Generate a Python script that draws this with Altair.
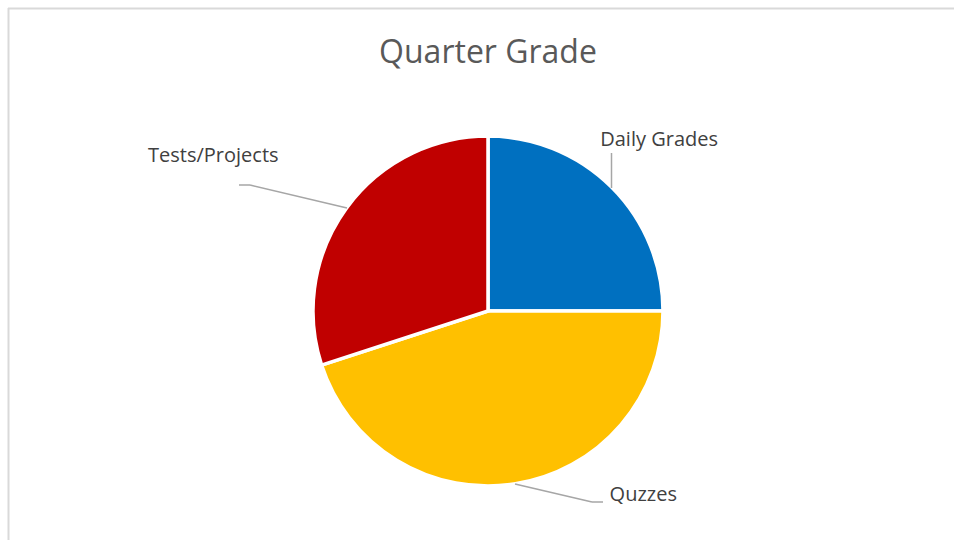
import altair as alt
import pandas as pd

categories = ["Daily Grades", "Quzzes", "Tests/Projects"]
values = [25, 45, 30]
slice_order = [1, 2, 3]
colors = ["#0070C0", "#FFC000", "#C00000"]

df = pd.DataFrame({"category": categories, "value": values, "order": slice_order})

W, H = 954, 540
CX, CY = 488, 311
FONT = "Open Sans"

base = alt.Chart(df)

pie = base.mark_arc(radius=175, stroke="white", strokeWidth=3.5).encode(
    theta=alt.Theta("value:Q", stack=True),
    color=alt.Color("category:N", scale=alt.Scale(domain=categories, range=colors), legend=None),
    order=alt.Order("order:Q"),
    x=alt.value(CX),
    y=alt.value(CY),
)

lab_base = (
    base.transform_window(cum="sum(value)", sort=[alt.SortField("order")])
    .transform_joinaggregate(total="sum(value)")
    .transform_calculate(mid="(datum.cum - datum.value/2)/datum.total*2*PI")
)

def label(cat, r, dx, dy):
    return lab_base.transform_filter(alt.datum.category == cat).mark_text(
        radius=r, dx=dx, dy=dy, font=FONT, fontSize=20, color="#404040",
        align="center", baseline="middle",
    ).encode(
        theta=alt.Theta("mid:Q", scale=None, stack=False),
        text="category:N",
        x=alt.value(CX),
        y=alt.value(CY),
    )

labels = [
    label("Daily Grades", 242, 0, 0),
    label("Tests/Projects", 300, -32, 21),
    label("Quzzes", 200, 124, -14),
]

def seg(x1, y1, x2, y2, color="#A6A6A6", w=1.5):
    return alt.Chart(df).transform_filter(alt.datum.order == 1).mark_rule(
        color=color, strokeWidth=w
    ).encode(x=alt.value(x1), y=alt.value(y1), x2=alt.value(x2), y2=alt.value(y2))

leaders = [
    seg(611.5, 153, 611.5, 188),
    seg(239, 185, 250, 185),
    seg(250, 185, 347, 208),
    seg(515, 484, 592, 502),
    seg(592, 502, 603, 502),
]

frame = [
    seg(8, 8.5, W, 8.5, color="#D9D9D9", w=2),
    seg(8.5, 8, 8.5, H, color="#D9D9D9", w=2),
]

title = alt.Chart(df).transform_filter(alt.datum.order == 1).mark_text(
    text="Quarter Grade", font=FONT, fontSize=32, color="#595959",
    align="center", baseline="middle",
).encode(x=alt.value(488), y=alt.value(53))

chart = alt.layer(*frame, pie, *leaders, *labels, title).properties(
    width=W, height=H, autosize=alt.AutoSizeParams(type="none"), padding=0,
    background="white",
).configure_view(stroke=None)

chart.save("out.html", embed_options={"renderer": "svg", "actions": False})
